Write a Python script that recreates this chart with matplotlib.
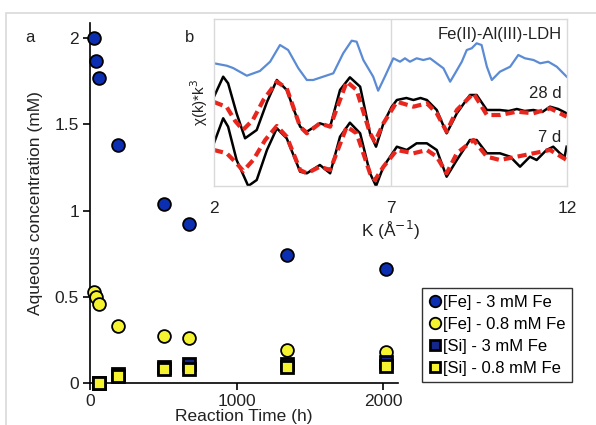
import matplotlib
matplotlib.use("Agg")
import matplotlib.pyplot as plt
from matplotlib.patches import Rectangle

plt.rcParams['font.family'] = ['Liberation Sans', 'DejaVu Sans']

# ---- panel a data ----
time_fe = [24, 40, 60, 192, 504, 672, 1344, 2016]
fe_3mM = [2.00, 1.87, 1.77, 1.38, 1.04, 0.92, 0.74, 0.66]
fe_08mM = [0.53, 0.50, 0.46, 0.33, 0.27, 0.26, 0.19, 0.18]
time_si = [60, 192, 504, 672, 1344, 2016]
si_3mM = [0.00, 0.05, 0.09, 0.11, 0.11, 0.12]
si_08mM = [0.00, 0.04, 0.08, 0.08, 0.09, 0.10]
legend_labels = ['[Fe] - 3 mM Fe', '[Fe] - 0.8 mM Fe', '[Si] - 3 mM Fe', '[Si] - 0.8 mM Fe']

# ---- panel b data (EXAFS, arbitrary offset units) ----
k_ldh = [2.00, 2.36, 2.54, 2.93, 3.30, 3.59, 3.87, 4.10, 4.39, 4.63, 4.81, 5.38, 5.66, 5.90,
         6.04, 6.23, 6.51, 6.65, 6.84, 7.08, 7.27, 7.41, 7.55, 7.74, 7.93, 8.12, 8.31, 8.50,
         8.69, 8.83, 9.02, 9.16, 9.30, 9.44, 9.58, 9.73, 9.87, 10.10, 10.39, 10.62, 10.81,
         11.05, 11.24, 11.47, 11.71, 11.99]
chi_ldh = [12.27, 12.03, 11.80, 11.03, 11.50, 12.43, 14.10, 13.60, 11.77, 10.60, 10.60, 11.27,
           13.27, 14.53, 14.43, 12.60, 10.93, 9.53, 10.93, 12.77, 12.43, 12.77, 12.43, 12.77,
           12.60, 12.77, 12.27, 11.77, 10.43, 11.27, 12.43, 13.60, 13.77, 14.27, 14.10, 11.93,
           10.60, 11.43, 11.93, 13.10, 12.77, 12.60, 12.27, 12.43, 11.93, 10.93]

k_28 = [2.00, 2.26, 2.40, 2.64, 2.88, 3.21, 3.50, 3.78, 4.06, 4.44, 4.63, 5.00, 5.29, 5.57,
        5.85, 6.14, 6.42, 6.59, 6.80, 7.03, 7.18, 7.45, 7.65, 7.85, 8.03, 8.31, 8.59, 8.88,
        9.25, 9.44, 9.73, 10.10, 10.35, 10.58, 10.80, 11.05, 11.30, 11.52, 11.75, 11.99]
chi_28_data = [8.93, 10.93, 10.27, 7.27, 4.77, 5.60, 8.40, 10.60, 9.60, 5.93, 5.43, 6.27, 5.93,
               9.60, 10.87, 9.93, 5.27, 3.93, 6.27, 7.90, 8.60, 8.80, 8.60, 8.80, 8.60, 7.60,
               5.27, 7.27, 9.10, 9.10, 7.60, 7.60, 7.50, 7.70, 7.50, 7.60, 7.40, 7.93, 7.70, 7.27]
k_28_fit = [2.00, 2.36, 2.60, 2.82, 3.10, 3.40, 3.78, 4.06, 4.44, 4.63, 5.00, 5.29, 5.76, 6.04,
            6.42, 6.56, 6.80, 7.18, 7.65, 8.03, 8.31, 8.59, 8.88, 9.35, 9.73, 10.10, 10.58,
            11.05, 11.52, 11.99]
chi_28_fit = [8.40, 7.90, 6.50, 5.60, 6.60, 8.60, 10.43, 9.77, 5.93, 5.27, 6.27, 5.93, 10.43,
              9.60, 5.27, 4.43, 6.27, 8.43, 7.93, 8.27, 7.27, 5.43, 7.60, 9.27, 7.10, 7.10, 7.43,
              7.27, 7.77, 6.93]

k_7 = [2.00, 2.26, 2.40, 2.64, 2.97, 3.21, 3.50, 3.78, 4.06, 4.44, 4.63, 5.00, 5.29, 5.57,
       5.85, 6.14, 6.42, 6.59, 6.80, 7.18, 7.46, 7.74, 8.03, 8.31, 8.59, 8.88, 9.25, 9.44,
       9.73, 10.10, 10.39, 10.67, 10.95, 11.14, 11.42, 11.61, 11.80, 11.93, 11.99]
chi_7_data = [4.30, 6.77, 5.93, 2.60, 0.00, 0.60, 3.60, 5.77, 4.77, 1.43, 1.27, 2.10, 1.27, 4.93,
              6.33, 5.27, 1.27, 0.00, 1.93, 3.93, 3.60, 4.27, 4.27, 3.60, 0.93, 2.60, 4.60, 4.60,
              3.27, 3.27, 2.93, 1.93, 2.93, 2.60, 3.60, 3.93, 3.27, 2.90, 3.93]
k_7_fit = [2.00, 2.36, 2.64, 2.83, 3.11, 3.45, 3.78, 4.06, 4.44, 4.63, 5.00, 5.29, 5.76, 6.04,
           6.42, 6.56, 6.80, 7.18, 7.65, 8.03, 8.31, 8.59, 8.88, 9.35, 9.73, 10.10, 10.58,
           11.05, 11.52, 11.99]
chi_7_fit = [3.60, 3.27, 2.27, 1.50, 2.60, 4.60, 6.00, 4.93, 1.60, 1.27, 1.93, 1.60, 5.93, 5.27,
             1.27, 0.60, 1.93, 3.60, 3.27, 3.60, 2.93, 1.27, 3.27, 4.60, 2.93, 2.60, 2.93, 3.27,
             3.60, 2.60]

W, H = 596, 425
fig = plt.figure(figsize=(W / 100, H / 100), dpi=100)

def fx(px):
    return px / W

def fy(py):
    return 1 - py / H

# light grey panel frame
fig.patches.append(Rectangle((fx(6), fy(600)), 1.2, fy(13) - fy(600), transform=fig.transFigure,
                             fill=False, edgecolor='#d9d9d9', linewidth=1.2, zorder=0))

# ---- main axes ----
ax = fig.add_axes([fx(90), fy(383), fx(398) - fx(90), fy(22.7) - fy(383)])
ax.set_xlim(0, 2100)
ax.set_ylim(0, 2.09)
for s in ['top', 'right']:
    ax.spines[s].set_visible(False)
for s in ['left', 'bottom']:
    ax.spines[s].set_linewidth(1.2)
    ax.spines[s].set_color('black')
ax.set_yticks([0, 0.5, 1, 1.5, 2])
ax.set_yticklabels(['0', '0.5', '1', '1.5', '2'])
ax.set_xticks([0, 1000, 2000])
ax.tick_params(axis='both', labelsize=12.5, length=5, width=1.2, direction='out', pad=3,
               labelcolor='#222222')
ax.set_xlabel('Reaction Time (h)', fontsize=12.5, labelpad=0, color='#222222')
ax.set_ylabel('Aqueous concentration (mM)', fontsize=12.5, labelpad=8, color='#222222')

blue = '#0b2fb0'
navy = '#13288a'
yellow = '#f5f230'
ax.plot(time_fe, fe_3mM, 'o', ms=9.2, mfc=blue, mec='black', mew=1.3, clip_on=False,
        label=legend_labels[0], zorder=4)
ax.plot(time_fe, fe_08mM, 'o', ms=9.2, mfc=yellow, mec='black', mew=1.3, clip_on=False,
        label=legend_labels[1], zorder=4)
ax.plot(time_si, si_3mM, 's', ms=8.6, mfc=navy, mec='black', mew=2.0, clip_on=False,
        label=legend_labels[2], zorder=5)
ax.plot(time_si, si_08mM, 's', ms=8.6, mfc=yellow, mec='black', mew=2.0, clip_on=False,
        label=legend_labels[3], zorder=6)

leg = fig.legend(loc='upper left', bbox_to_anchor=(fx(422), fy(288)),
                 bbox_transform=fig.transFigure, fontsize=12, frameon=True, fancybox=False,
                 edgecolor='black', handlelength=0.75, handletextpad=0.1, borderpad=0.4,
                 labelspacing=0.42, borderaxespad=0, markerscale=0.9)
leg.get_frame().set_linewidth(1.0)

fig.text(fx(30), fy(38), 'a', fontsize=12, ha='center', va='center', color='#222222')
fig.text(fx(190), fy(38), 'b', fontsize=12, ha='center', va='center', color='#222222')

# ---- inset ----
axi = fig.add_axes([fx(214), fy(186), fx(567) - fx(214), fy(19) - fy(186)])
axi.set_facecolor('white')
axi.set_xlim(2, 12)
axi.set_ylim(0, 16.7)
for s in axi.spines.values():
    s.set_color('#d9d9d9')
    s.set_linewidth(1.0)
axi.set_xticks([2, 7, 12])
axi.set_yticks([])
axi.tick_params(axis='x', length=0, labelsize=12.5, pad=11, labelcolor='#222222')
axi.axvline(7, color='#d9d9d9', lw=1.0, zorder=0)
axi.set_xlabel('K (Å$^{-1}$)', fontsize=12.5, labelpad=2, color='#222222')
axi.set_ylabel('χ(k)*k$^{3}$', fontsize=11, labelpad=3, color='#222222')

axi.plot(k_ldh, chi_ldh, color='#5b8bd5', lw=1.6, solid_joinstyle='round')
axi.plot(k_28, chi_28_data, color='black', lw=1.8, solid_joinstyle='round')
axi.plot(k_7, chi_7_data, color='black', lw=1.8, solid_joinstyle='round')
axi.plot(k_28_fit, chi_28_fit, color='#e8261e', lw=3.0, dashes=(2.2, 1.2))
axi.plot(k_7_fit, chi_7_fit, color='#e8261e', lw=3.0, dashes=(2.2, 1.2))

axi.text(11.85, 15.2, 'Fe(II)-Al(III)-LDH', fontsize=12, ha='right', va='center', color='#222222')
axi.text(11.85, 9.3, '28 d', fontsize=12, ha='right', va='center', color='#222222')
axi.text(11.85, 4.8, '7 d', fontsize=12, ha='right', va='center', color='#222222')

fig.savefig('out.png', dpi=100)
